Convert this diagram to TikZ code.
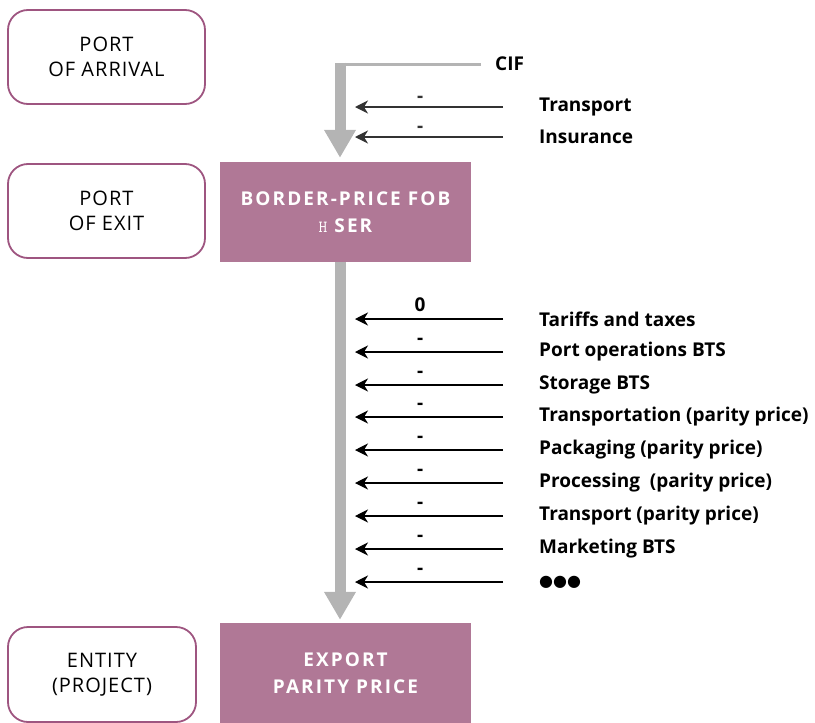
\documentclass[tikz,border=0pt]{standalone}
\usepackage{fontspec}
\setmainfont{Open Sans}
\newfontfamily\dotfont{DejaVu Sans}
\usetikzlibrary{arrows.meta, positioning}

\definecolor{plum}{HTML}{B07896}
\definecolor{plumline}{HTML}{9E5580}
\definecolor{flowgray}{HTML}{B4B4B4}

\begin{document}
\begin{tikzpicture}[
        x=1pt, y=-1pt,
        place/.style={draw=plumline, line width=1.8pt, rounded corners=20pt, minimum width=197pt, minimum height=94pt, align=center, font=\fontsize{20}{25}\selectfont\addfontfeatures{LetterSpace=5}},
        price/.style={fill=plum, text=white, minimum width=251pt, minimum height=100pt, align=center, font=\bfseries\fontsize{19}{27}\selectfont\addfontfeatures{LetterSpace=11}},
        item/.style={anchor=west, inner sep=0pt, font=\bfseries\fontsize{19}{20}\selectfont},
        sign/.style={pos=.56, above=7pt, inner sep=0pt, font=\bfseries\fontsize{19}{20}\selectfont},
        cost/.style={-{Stealth[length=13pt, width=13pt, inset=4pt]}, line width=1.3pt, black!80},
        feed/.style={flowgray, line width=11pt, -{Triangle[length=28pt, width=30pt]}}
    ]
    \useasboundingbox (0,0) rectangle (815,723);

    % places
    \node[place] (arrival) at (106.5,57) {PORT\\OF ARRIVAL};
    \node[place] (exit) at (106.5,211) {PORT\\OF EXIT};
    \node[place, minimum width=188pt, minimum height=95pt] (entity) at (102,674.5) {ENTITY\\(PROJECT)};

    % prices
    \node[price] (border) at (345.5,212) {BORDER-PRICE FOB\\{\normalfont\ttfamily\fontsize{17}{17}\selectfont H} SER};
    \node[price] (export) at (345.5,673) {EXPORT\\PARITY PRICE};

    % CIF feed
    \node[item] (cif) at (495,64) {CIF};
    \coordinate (bend) at (340,64);
    \draw[flowgray, line width=3pt] ([xshift=-14pt]cif.west) -- (bend);
    \draw[feed, shorten >=4pt] ([yshift=1.5pt]bend) -- (bend |- border.north);
    \draw[feed, shorten >=3pt] ([xshift=-5.5pt]border.south) -- ([xshift=-5.5pt]export.north);

    % costs to the border
    \foreach \y/\lbl [count=\i] in {107/Transport, 137/Insurance} {
        \node[item] (top\i) at (539,\y) {\lbl};
        \coordinate (toptip\i) at (355,\y);
        \draw[cost] ([xshift=-36pt]top\i.west) -- node[sign, above=4pt] {-} (toptip\i);
    }

    % costs to the entity
    \foreach \y/\lbl/\sgn [count=\i] in {
            319/Tariffs and taxes/0,
            352/Port operations BTS/-,
            385/Storage BTS/-,
            417/Transportation (parity price)/-,
            450/Packaging (parity price)/-,
            483/Processing~ (parity price)/-,
            516/Transport (parity price)/-,
            549/Marketing BTS/-,
            582/{\dotfont\fontsize{16}{16}\selectfont ●●●}/-} {
        \node[item] (cost\i) at (539,\y) {\lbl};
        \coordinate (costtip\i) at (355,\y);
        \draw[cost, black] ([xshift=-36pt]cost\i.west) -- node[sign] {\sgn} (costtip\i);
    }
\end{tikzpicture}
\end{document}
